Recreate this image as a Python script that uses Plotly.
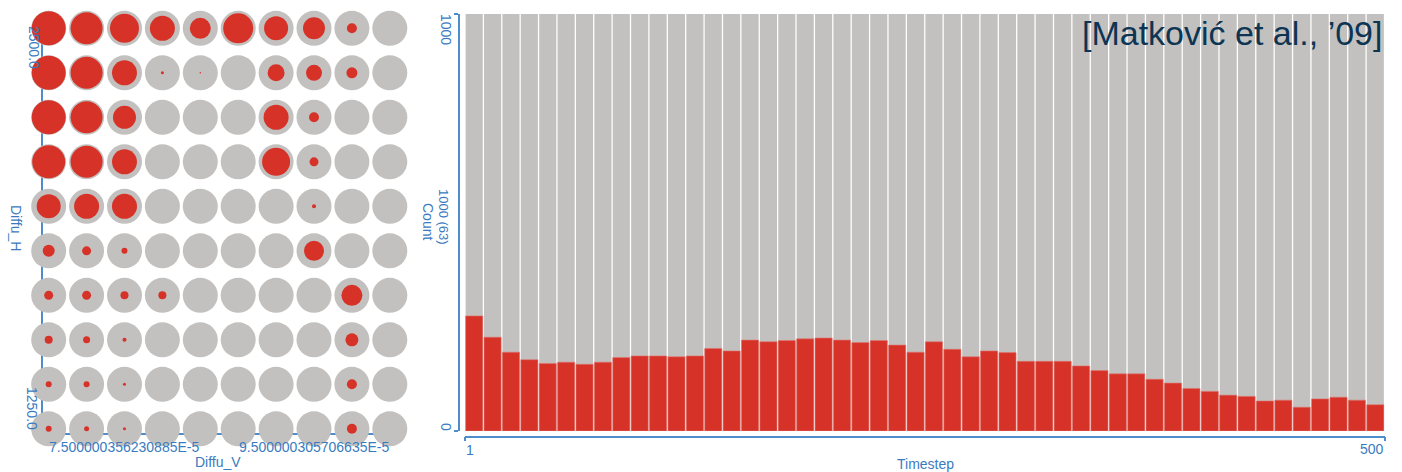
import plotly.graph_objects as go

W, H = 1402, 472

# ---------------- data ----------------
# Left: 10 x 10 grid (rows top->bottom: Diffu_H 2500.0 ... 1250.0; cols: Diffu_V index)
diffu_v_cols = [0, 1, 2, 3, 4, 5, 6, 7, 8, 9]
diffu_h_rows = [9, 8, 7, 6, 5, 4, 3, 2, 1, 0]          # 9 = 2500.0 (top), 0 = 1250.0 (bottom)
diffu_v_ticks = [2, 7]
diffu_v_ticktext = ["7.500000356230885E-5", "9.500000305706635E-5"]
# diameter (px) of the red "selected" disk in each cell, row-major, top row first
selected_diam = [
    [34, 32, 29, 25, 21, 30, 24, 22, 10, 0],
    [34, 32, 25, 3, 1.5, 0, 17, 16, 11, 0],
    [34, 32, 23, 0, 0, 0, 25, 10, 0, 0],
    [33, 32, 25, 0, 0, 0, 28, 9, 0, 0],
    [24, 25, 25, 0, 0, 0, 0, 4, 0, 0],
    [12, 9, 6, 0, 0, 0, 0, 20, 0, 0],
    [9, 9, 8, 8, 0, 0, 0, 0, 21, 0],
    [8, 7, 4, 0, 0, 0, 0, 0, 13, 0],
    [6, 6, 3, 0, 0, 0, 0, 0, 10, 0],
    [6, 5, 3, 0, 0, 0, 0, 0, 10, 0],
]

# Right: histogram over Timestep (50 bins of 10 steps)
bin_centers = [5 + 10 * i for i in range(50)]
total_count = [1000] * 50
selected_count = [
    276, 225, 189, 171, 162, 165, 160, 165, 176, 180,
    180, 178, 180, 198, 192, 218, 214, 217, 221, 223,
    218, 212, 217, 206, 189, 214, 196, 178, 192, 188,
    167, 167, 167, 156, 145, 137, 137, 124, 115, 102,
    95, 86, 83, 72, 74, 57, 77, 81, 74, 63,
]

BLUE_LINE = "#4f8ccb"
BLUE_TEXT = "#3a7bc0"
GREY = "#c2c1bf"
RED = "#d63228"
FONT = "Liberation Sans, Arial, sans-serif"


def px(xp):
    return xp / W


def py(yp):
    return 1 - yp / H


fig = go.Figure()

# ---- left grid ----
gx, gy, rx, ry, rs = [], [], [], [], []
for ri, row in enumerate(selected_diam):
    for ci, d in enumerate(row):
        gx.append(diffu_v_cols[ci])
        gy.append(diffu_h_rows[ri])
        if d > 0:
            rx.append(diffu_v_cols[ci])
            ry.append(diffu_h_rows[ri])
            rs.append(d)

fig.add_trace(go.Scatter(x=gx, y=gy, mode="markers", cliponaxis=False,
                         marker=dict(size=35, color=GREY, opacity=1, line=dict(width=0)),
                         xaxis="x", yaxis="y", showlegend=False, hoverinfo="skip"))
fig.add_trace(go.Scatter(x=rx, y=ry, mode="markers", cliponaxis=False,
                         marker=dict(size=rs, color=RED, opacity=1, line=dict(width=0)),
                         xaxis="x", yaxis="y", showlegend=False))

# ---- right histogram ----
fig.add_trace(go.Bar(x=bin_centers, y=total_count, width=9.3, marker=dict(color=GREY, line=dict(width=0)),
                     xaxis="x2", yaxis="y2", showlegend=False, hoverinfo="skip"))
fig.add_trace(go.Bar(x=bin_centers, y=selected_count, width=9.3,
                     marker=dict(color=RED, line=dict(width=0.6, color="#e2766e")),
                     xaxis="x2", yaxis="y2", showlegend=False))

axis_common = dict(showgrid=False, zeroline=False, showline=True, linecolor=BLUE_LINE, linewidth=1.5)

fig.update_layout(
    width=W, height=H,
    margin=dict(l=0, r=0, t=0, b=0),
    paper_bgcolor="white", plot_bgcolor="white",
    barmode="overlay",
    font=dict(family=FONT, color=BLUE_TEXT, size=14),
    xaxis=dict(domain=[px(43), px(390)], range=[-0.150, 9.005], anchor="y",
               showticklabels=False, ticks="", layer="below traces", **axis_common),
    yaxis=dict(domain=[py(433), py(13)], range=[-0.094, 9.344], anchor="x",
               showticklabels=False, ticks="", layer="below traces", **axis_common),
    xaxis2=dict(domain=[px(465), px(1384.5)], range=[0, 500], anchor="free", position=py(436.5),
                tickvals=[0, 500], ticks="outside", ticklen=4, tickcolor=BLUE_LINE, tickwidth=1.5,
                showticklabels=False, **axis_common),
    yaxis2=dict(domain=[py(431), py(14)], range=[0, 1000], anchor="free", position=px(459),
                tickvals=[0, 1000], ticks="outside", ticklen=4, tickcolor=BLUE_LINE, tickwidth=1.5,
                showticklabels=False, **axis_common),
)

ann = []


def A(text, x, y, angle=0, size=14, color=BLUE_TEXT, xanchor="center", yanchor="middle",
      xref="paper", yref="paper"):
    ann.append(dict(text=text, x=x, y=y, xref=xref, yref=yref, textangle=angle, showarrow=False,
                    xanchor=xanchor, yanchor=yanchor, font=dict(family=FONT, size=size, color=color)))


# left axis labels
A("2500.0", px(34), py(47), angle=90)
A("1250.0", px(32), py(408), angle=90)
A("Diffu_H", px(16), py(228), angle=90)
for v, t in zip(diffu_v_ticks, diffu_v_ticktext):
    A(t, v, py(447), xref="x")
A("Diffu_V", px(218), py(462))

# right axis labels
A("1000", px(446), py(29), angle=90)
A("0", px(446), py(427), angle=90)
A("1000 (63)", px(444), py(217), angle=90, size=13)
A("Count", px(428), py(222), angle=90)
A("1", px(464), py(450), xanchor="left")
A("500", px(1386), py(449), xanchor="right")
A("Timestep", px(925), py(463.5))

# citation
A("[Matković et al., ’09]", px(1384), py(33.5), size=34, color="#0d3553", xanchor="right")

fig.update_layout(annotations=ann)

fig.write_html("out.html", config={"displayModeBar": False},
               post_script="document.body.style.margin='0';document.body.style.overflow='hidden';")
